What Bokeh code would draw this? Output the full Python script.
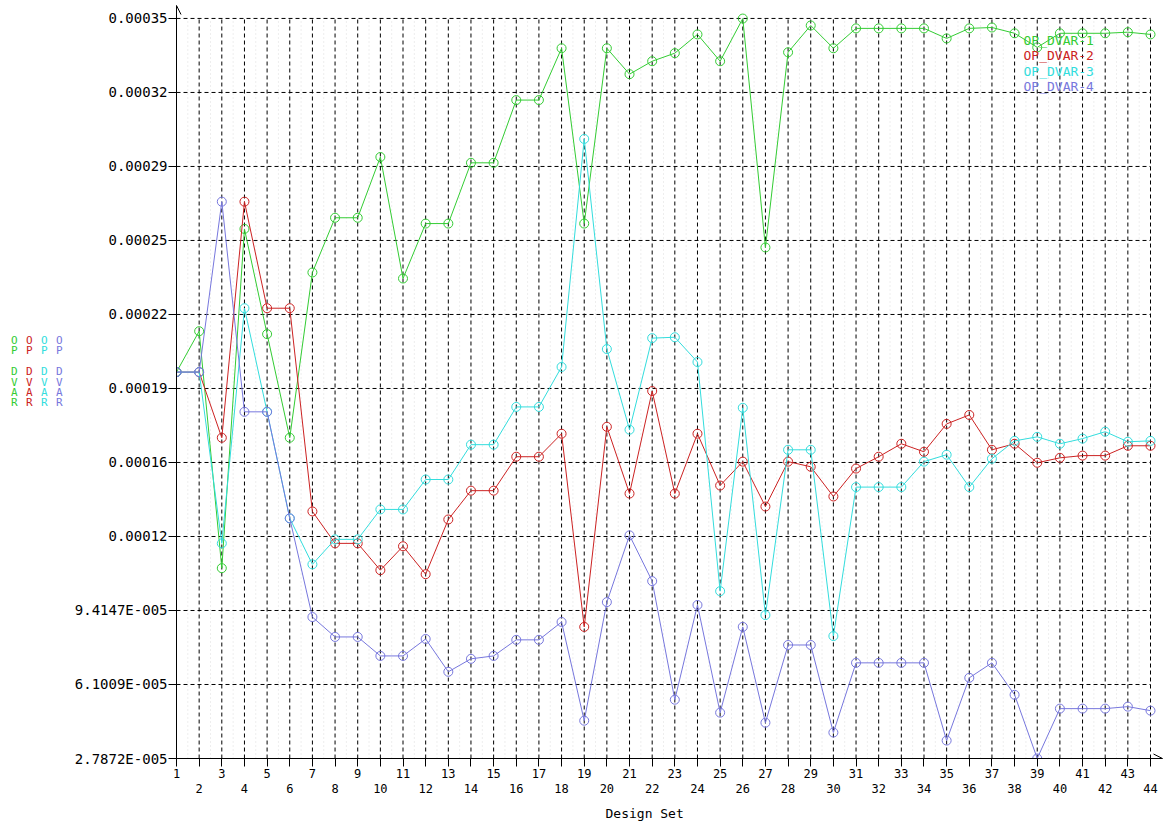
from bokeh.plotting import figure
from bokeh.models import FixedTicker, Label, Arrow, OpenHead, Range1d, LinearAxis, Title
from bokeh.embed import file_html
from bokeh.resources import INLINE

# ---------------- data ----------------
design_set = list(range(1, 45))

op_dvar_1 = [2.009e-4, 2.192e-4, 1.131e-4, 2.650e-4, 2.179e-4, 1.715e-4, 2.455e-4, 2.700e-4, 2.700e-4, 2.972e-4,
             2.428e-4, 2.674e-4, 2.674e-4, 2.946e-4, 2.946e-4, 3.227e-4, 3.227e-4, 3.459e-4, 2.674e-4, 3.459e-4,
             3.343e-4, 3.401e-4, 3.437e-4, 3.521e-4, 3.401e-4, 3.592e-4, 2.567e-4, 3.441e-4, 3.561e-4, 3.459e-4,
             3.548e-4, 3.548e-4, 3.548e-4, 3.548e-4, 3.503e-4, 3.548e-4, 3.552e-4, 3.526e-4, 3.463e-4, 3.526e-4,
             3.526e-4, 3.526e-4, 3.531e-4, 3.521e-4]

op_dvar_2 = [2.009e-4, 2.009e-4, 1.715e-4, 2.772e-4, 2.295e-4, 2.295e-4, 1.385e-4, 1.242e-4, 1.242e-4, 1.122e-4,
             1.229e-4, 1.104e-4, 1.349e-4, 1.478e-4, 1.478e-4, 1.630e-4, 1.630e-4, 1.733e-4, 8.68e-5, 1.764e-4,
             1.465e-4, 1.924e-4, 1.465e-4, 1.733e-4, 1.501e-4, 1.608e-4, 1.407e-4, 1.608e-4, 1.585e-4, 1.452e-4,
             1.577e-4, 1.630e-4, 1.688e-4, 1.652e-4, 1.777e-4, 1.817e-4, 1.661e-4, 1.688e-4, 1.603e-4, 1.625e-4,
             1.635e-4, 1.635e-4, 1.679e-4, 1.679e-4]

op_dvar_3 = [2.009e-4, 2.009e-4, 1.242e-4, 2.295e-4, 1.831e-4, 1.354e-4, 1.148e-4, 1.260e-4, 1.260e-4, 1.394e-4,
             1.394e-4, 1.528e-4, 1.528e-4, 1.684e-4, 1.684e-4, 1.853e-4, 1.853e-4, 2.032e-4, 3.053e-4, 2.112e-4,
             1.751e-4, 2.161e-4, 2.165e-4, 2.054e-4, 1.028e-4, 1.849e-4, 9.21e-5, 1.661e-4, 1.661e-4, 8.27e-5,
             1.494e-4, 1.494e-4, 1.494e-4, 1.608e-4, 1.639e-4, 1.494e-4, 1.621e-4, 1.701e-4, 1.719e-4, 1.688e-4,
             1.711e-4, 1.742e-4, 1.697e-4, 1.701e-4]

op_dvar_4 = [2.009e-4, 2.009e-4, 2.772e-4, 1.831e-4, 1.831e-4, 1.354e-4, 9.12e-5, 8.23e-5, 8.23e-5, 7.38e-5,
             7.38e-5, 8.14e-5, 6.67e-5, 7.25e-5, 7.38e-5, 8.10e-5, 8.10e-5, 8.90e-5, 4.48e-5, 9.79e-5,
             1.278e-4, 1.073e-4, 5.42e-5, 9.66e-5, 4.84e-5, 8.68e-5, 4.39e-5, 7.87e-5, 7.87e-5, 3.95e-5,
             7.07e-5, 7.07e-5, 7.07e-5, 7.07e-5, 3.59e-5, 6.40e-5, 7.07e-5, 5.64e-5, 2.79e-5, 5.02e-5,
             5.02e-5, 5.02e-5, 5.11e-5, 4.93e-5]

series_names = ["OP_DVAR-1", "OP_DVAR-2", "OP_DVAR-3", "OP_DVAR-4"]
series_colors = ["#33cc33", "#cc2222", "#33dddd", "#7777dd"]

y_tick_values = [2.7872e-05, 6.10095e-05, 9.4147e-05, 1.2728450e-04, 1.604220e-04, 1.935595e-04,
                 2.266970e-04, 2.598345e-04, 2.929720e-04, 3.261095e-04, 3.592470e-04]
y_tick_labels = ["2.7872E-005", "6.1009E-005", "9.4147E-005", "0.00012", "0.00016", "0.00019",
                 "0.00022", "0.00025", "0.00029", "0.00032", "0.00035"]

x_axis_title = "Design Set"
y_axis_title = "OP_DVAR"

# ---------------- layout ----------------
MONO = "DejaVu Sans Mono"
W, H = 1164, 825
BL, BR, BT, BB = 176, 2, 5, 64
frame_w = W - BL - BR
frame_h = H - BT - BB
x0 = design_set[0]
x_last = design_set[-1]
px_per_x = 974.0 / (x_last - x0)
x_end = x0 + frame_w / px_per_x
y0 = y_tick_values[0]
y_top_tick = y_tick_values[-1]
px_per_y = 743.0 / (y_top_tick - y0)
y_end = y0 + frame_h / px_per_y

page_frame_left = BL
page_frame_bottom = BT + frame_h


def dx(page_x):
    return x0 + (page_x - page_frame_left) / px_per_x


def dy(page_y):
    return y0 + (page_frame_bottom - page_y) / px_per_y


p = figure(width=W, height=H, x_range=Range1d(x0, x_end), y_range=Range1d(y0, y_end),
           output_backend="svg", toolbar_location=None,
           min_border_left=BL, min_border_right=BR, min_border_top=BT, min_border_bottom=BB)
p.outline_line_color = None
p.background_fill_color = "white"
p.border_fill_color = "white"
p.xgrid.visible = False
p.ygrid.visible = False

# grid lines (from tick arrays)
minor_x = [x + 0.5 for x in design_set[:-1]]
p.segment(x0=minor_x, y0=[y0] * len(minor_x), x1=minor_x, y1=[y_top_tick] * len(minor_x),
          line_color="#dcdcdc", line_width=1, line_dash="1 3")
p.segment(x0=design_set[1:], y0=[y0] * (len(design_set) - 1), x1=design_set[1:],
          y1=[y_top_tick] * (len(design_set) - 1), line_color="black", line_width=1, line_dash="4 3")
p.segment(x0=[x0] * (len(y_tick_values) - 1), y0=y_tick_values[1:], x1=[x_last] * (len(y_tick_values) - 1),
          y1=y_tick_values[1:], line_color="black", line_width=1, line_dash="4 3")

# axes
xa = p.xaxis[0]
xa.ticker = FixedTicker(ticks=design_set)
xa.major_label_overrides = {x: (str(x) if x % 2 == 1 else "\n" + str(x)) for x in design_set}
xa.major_tick_out = 8
xa.major_tick_in = 0
xa.minor_tick_line_color = None
xa.major_label_standoff = 0
xa.major_label_text_font = MONO
xa.major_label_text_font_size = "12px"
xa.major_label_text_line_height = 1.08
xa.major_label_text_color = "black"
xa.axis_line_color = "black"
xa.major_tick_line_color = "black"

ya = p.yaxis[0]
ya.ticker = FixedTicker(ticks=y_tick_values)
ya.major_label_overrides = {v: s for v, s in zip(y_tick_values, y_tick_labels)}
ya.major_tick_out = 8
ya.major_tick_in = 0
ya.minor_tick_line_color = None
ya.major_label_standoff = 1
ya.major_label_text_font = MONO
ya.major_label_text_font_size = "14px"
ya.major_label_text_color = "black"
ya.axis_line_color = "black"

# y axis title: one stacked column per series (nearest the axis = last series)
title_chars = [(" " if ch == "_" else ch) for ch in y_axis_title] + ["\u00a0", "\u00a0"]
stacked = "\n".join(title_chars)
for k, color in enumerate(reversed(series_colors)):
    ax = LinearAxis(ticker=FixedTicker(ticks=[]), axis_line_color=None, major_tick_line_color=None,
                    minor_tick_line_color=None, major_tick_out=0, major_tick_in=0, minor_tick_out=0,
                    minor_tick_in=0, major_label_standoff=0, major_label_text_font_size="0px",
                    axis_label=stacked, axis_label_orientation="horizontal",
                    axis_label_standoff=(9 if k == 0 else 5), axis_label_text_color=color,
                    axis_label_text_font=MONO, axis_label_text_font_size="11px",
                    axis_label_text_font_style="normal", axis_label_text_line_height=0.8)
    p.add_layout(ax, "left")

# x axis title
p.add_layout(Title(text=x_axis_title, align="left", offset=605 - BL, text_font=MONO,
                   text_font_size="13px", text_font_style="normal", text_color="black"), "below")

# axis arrows
p.add_layout(Arrow(end=OpenHead(size=9, line_width=1, line_color="black"), line_color="black", line_width=1,
                   x_start=x_last, y_start=y0, x_end=x_end, y_end=y0))
p.add_layout(Arrow(end=OpenHead(size=9, line_width=1, line_color="black"), line_color="black", line_width=1,
                   x_start=x0, y_start=y_top_tick, x_end=x0, y_end=y_end))

# series
for vals, color in zip([op_dvar_1, op_dvar_2, op_dvar_3, op_dvar_4], series_colors):
    p.line(design_set, vals, line_color=color, line_width=1)
    p.scatter(design_set, vals, marker="circle", size=9, fill_color=None, line_color=color, line_width=1)

# legend (text only)
for i, (name, color) in enumerate(zip(series_names, series_colors)):
    p.add_layout(Label(x=dx(1023), y=dy(40 + i * 15.6), text=name, text_color=color, text_font=MONO,
                       text_font_size="13px", text_align="left", text_baseline="middle"))

open("out.html", "w").write(file_html(p, INLINE))
